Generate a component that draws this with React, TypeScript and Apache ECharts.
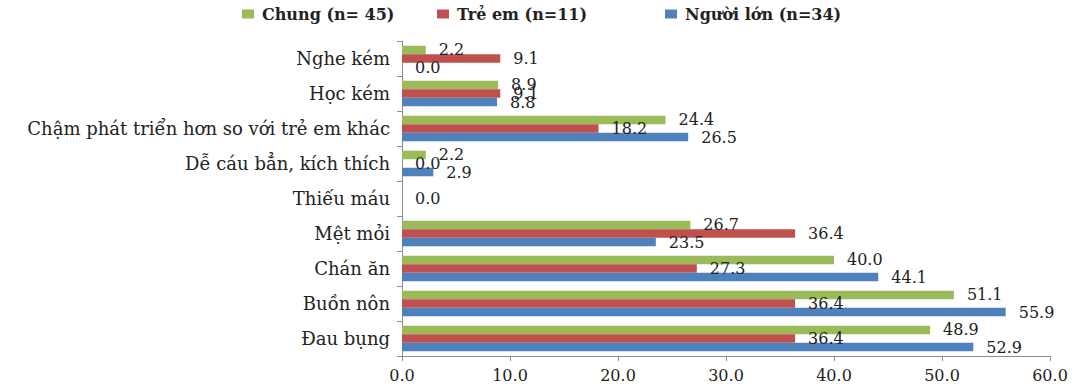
import React, { useEffect, useRef } from "react";
import * as echarts from "echarts";

// Symptoms, listed top to bottom
const categories = [
  "Nghe kém",
  "Học kém",
  "Chậm phát triển hơn so với trẻ em khác",
  "Dễ cáu bẳn, kích thích",
  "Thiếu máu",
  "Mệt mỏi",
  "Chán ăn",
  "Buồn nôn",
  "Đau bụng",
];

const seriesNames = ["Chung (n= 45)", "Trẻ em (n=11)", "Người lớn (n=34)"];

// Percentages per group (null = no value reported)
const chung: (number | null)[] = [2.2, 8.9, 24.4, 2.2, null, 26.7, 40.0, 51.1, 48.9];
const treEm: (number | null)[] = [9.1, 9.1, 18.2, 0.0, 0.0, 36.4, 27.3, 36.4, 36.4];
const nguoiLon: (number | null)[] = [0.0, 8.8, 26.5, 2.9, null, 23.5, 44.1, 55.9, 52.9];

const xTicks = { min: 0, max: 60, interval: 10 };

const colors = ["#9BBB59", "#C0504D", "#4F81BD"];
const FONT = "DejaVu Serif";

export default function App() {
  const ref = useRef<HTMLDivElement>(null);

  useEffect(() => {
    if (!ref.current) return;
    const chart = echarts.init(ref.current, undefined, { renderer: "svg" });

    const legendLefts = [237, 432, 660];
    const legends = seriesNames.map((name, i) => ({
      data: [name],
      left: legendLefts[i],
      top: 1,
      icon: "rect",
      itemWidth: 12,
      itemHeight: 9,
      itemGap: 8,
      textStyle: {
        fontFamily: FONT,
        fontWeight: "bold",
        fontSize: 16,
        color: "#222",
        padding: [0, 0, 0, 3],
      },
    }));

    const values = [chung, treEm, nguoiLon];

    chart.setOption({
      animation: false,
      color: colors,
      legend: legends,
      grid: { left: 402, right: 22, top: 41, bottom: 31, containLabel: false },
      xAxis: {
        type: "value",
        min: xTicks.min,
        max: xTicks.max,
        interval: xTicks.interval,
        splitLine: { show: false },
        axisLine: { show: true, lineStyle: { color: "#8c8c8c", width: 1 } },
        axisTick: { show: true, length: 5, lineStyle: { color: "#8c8c8c" } },
        axisLabel: {
          formatter: (v: number) => v.toFixed(1),
          fontFamily: FONT,
          fontSize: 16,
          color: "#222",
          margin: 11,
        },
      },
      yAxis: {
        type: "category",
        data: categories,
        inverse: true,
        axisLine: { show: true, lineStyle: { color: "#8c8c8c", width: 1 } },
        axisTick: { show: true, length: 5, lineStyle: { color: "#8c8c8c" } },
        axisLabel: {
          fontFamily: FONT,
          fontSize: 18,
          color: "#222",
          margin: 12,
        },
      },
      series: seriesNames.map((name, i) => ({
        name,
        type: "bar",
        data: values[i],
        barGap: "0%",
        barCategoryGap: "27%",
        itemStyle: { color: colors[i] },
        label: {
          show: true,
          position: "right",
          distance: 13,
          formatter: (p: any) => Number(p.value).toFixed(1),
          fontFamily: FONT,
          fontSize: 16,
          color: "#222",
        },
      })),
    });

    return () => chart.dispose();
  }, []);

  return (
    <div
      ref={ref}
      style={{ position: "fixed", left: 0, top: 0, width: 1072, height: 387, background: "#fff" }}
    />
  );
}
